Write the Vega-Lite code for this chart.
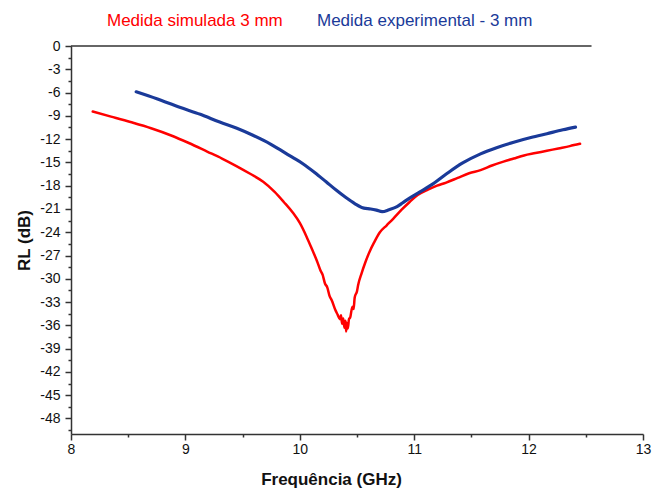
{
  "$schema": "https://vega.github.io/schema/vega-lite/v6.json",
  "autosize": {"type": "none"},
  "width": 572,
  "height": 388,
  "padding": {"left": 71, "top": 46, "right": 9, "bottom": 54},
  "background": "white",
  "config": {
    "view": {"stroke": null},
    "axis": {
      "grid": false,
      "domainColor": "#333333",
      "domainWidth": 1.5,
      "tickColor": "#333333",
      "tickWidth": 1.5,
      "labelFont": "Liberation Sans",
      "labelFontSize": 14,
      "labelColor": "#111111",
      "labelOverlap": false,
      "titleFont": "Liberation Sans",
      "titleFontSize": 17,
      "titleFontWeight": "bold",
      "titleColor": "#111111"
    }
  },
  "layer": [
    {
      "data": {"values": [{}]},
      "mark": {"type": "rule", "color": "#333333", "strokeWidth": 1.5},
      "encoding": {
        "x": {"datum": 8, "type": "quantitative"},
        "x2": {"datum": 12.55},
        "y": {"datum": 0, "type": "quantitative"}
      }
    },
    {
      "data": {
        "values": [
          {"serie": "Medida simulada 3 mm", "f": 8.19, "rl": -8.45},
          {"serie": "Medida simulada 3 mm", "f": 8.35, "rl": -9.1},
          {"serie": "Medida simulada 3 mm", "f": 8.52, "rl": -9.8},
          {"serie": "Medida simulada 3 mm", "f": 8.70, "rl": -10.6},
          {"serie": "Medida simulada 3 mm", "f": 8.87, "rl": -11.5},
          {"serie": "Medida simulada 3 mm", "f": 9.03, "rl": -12.5},
          {"serie": "Medida simulada 3 mm", "f": 9.19, "rl": -13.6},
          {"serie": "Medida simulada 3 mm", "f": 9.32, "rl": -14.5},
          {"serie": "Medida simulada 3 mm", "f": 9.45, "rl": -15.5},
          {"serie": "Medida simulada 3 mm", "f": 9.57, "rl": -16.5},
          {"serie": "Medida simulada 3 mm", "f": 9.68, "rl": -17.5},
          {"serie": "Medida simulada 3 mm", "f": 9.78, "rl": -18.8},
          {"serie": "Medida simulada 3 mm", "f": 9.86, "rl": -20.1},
          {"serie": "Medida simulada 3 mm", "f": 9.94, "rl": -21.5},
          {"serie": "Medida simulada 3 mm", "f": 10.0, "rl": -22.8},
          {"serie": "Medida simulada 3 mm", "f": 10.06, "rl": -24.6},
          {"serie": "Medida simulada 3 mm", "f": 10.11, "rl": -26.3},
          {"serie": "Medida simulada 3 mm", "f": 10.15, "rl": -27.7},
          {"serie": "Medida simulada 3 mm", "f": 10.18, "rl": -28.9},
          {"serie": "Medida simulada 3 mm", "f": 10.20, "rl": -29.5},
          {"serie": "Medida simulada 3 mm", "f": 10.22, "rl": -30.6},
          {"serie": "Medida simulada 3 mm", "f": 10.24, "rl": -31.1},
          {"serie": "Medida simulada 3 mm", "f": 10.26, "rl": -32.2},
          {"serie": "Medida simulada 3 mm", "f": 10.28, "rl": -32.8},
          {"serie": "Medida simulada 3 mm", "f": 10.31, "rl": -34.0},
          {"serie": "Medida simulada 3 mm", "f": 10.33, "rl": -34.6},
          {"serie": "Medida simulada 3 mm", "f": 10.35, "rl": -35.2},
          {"serie": "Medida simulada 3 mm", "f": 10.36, "rl": -34.7},
          {"serie": "Medida simulada 3 mm", "f": 10.37, "rl": -35.8},
          {"serie": "Medida simulada 3 mm", "f": 10.38, "rl": -35.1},
          {"serie": "Medida simulada 3 mm", "f": 10.39, "rl": -36.3},
          {"serie": "Medida simulada 3 mm", "f": 10.40, "rl": -35.4},
          {"serie": "Medida simulada 3 mm", "f": 10.405, "rl": -36.8},
          {"serie": "Medida simulada 3 mm", "f": 10.41, "rl": -35.7},
          {"serie": "Medida simulada 3 mm", "f": 10.42, "rl": -36.4},
          {"serie": "Medida simulada 3 mm", "f": 10.43, "rl": -35.2},
          {"serie": "Medida simulada 3 mm", "f": 10.44, "rl": -35.0},
          {"serie": "Medida simulada 3 mm", "f": 10.46, "rl": -33.6},
          {"serie": "Medida simulada 3 mm", "f": 10.47, "rl": -33.9},
          {"serie": "Medida simulada 3 mm", "f": 10.48, "rl": -32.4},
          {"serie": "Medida simulada 3 mm", "f": 10.50, "rl": -31.6},
          {"serie": "Medida simulada 3 mm", "f": 10.51, "rl": -30.8},
          {"serie": "Medida simulada 3 mm", "f": 10.54, "rl": -29.3},
          {"serie": "Medida simulada 3 mm", "f": 10.57, "rl": -28.0},
          {"serie": "Medida simulada 3 mm", "f": 10.61, "rl": -26.5},
          {"serie": "Medida simulada 3 mm", "f": 10.65, "rl": -25.3},
          {"serie": "Medida simulada 3 mm", "f": 10.70, "rl": -24.0},
          {"serie": "Medida simulada 3 mm", "f": 10.76, "rl": -23.1},
          {"serie": "Medida simulada 3 mm", "f": 10.82, "rl": -22.2},
          {"serie": "Medida simulada 3 mm", "f": 10.89, "rl": -21.1},
          {"serie": "Medida simulada 3 mm", "f": 10.96, "rl": -20.1},
          {"serie": "Medida simulada 3 mm", "f": 11.03, "rl": -19.2},
          {"serie": "Medida simulada 3 mm", "f": 11.12, "rl": -18.5},
          {"serie": "Medida simulada 3 mm", "f": 11.20, "rl": -18.0},
          {"serie": "Medida simulada 3 mm", "f": 11.28, "rl": -17.6},
          {"serie": "Medida simulada 3 mm", "f": 11.38, "rl": -17.0},
          {"serie": "Medida simulada 3 mm", "f": 11.48, "rl": -16.4},
          {"serie": "Medida simulada 3 mm", "f": 11.58, "rl": -16.0},
          {"serie": "Medida simulada 3 mm", "f": 11.68, "rl": -15.4},
          {"serie": "Medida simulada 3 mm", "f": 11.78, "rl": -14.9},
          {"serie": "Medida simulada 3 mm", "f": 11.87, "rl": -14.5},
          {"serie": "Medida simulada 3 mm", "f": 11.96, "rl": -14.1},
          {"serie": "Medida simulada 3 mm", "f": 12.06, "rl": -13.8},
          {"serie": "Medida simulada 3 mm", "f": 12.16, "rl": -13.5},
          {"serie": "Medida simulada 3 mm", "f": 12.26, "rl": -13.2},
          {"serie": "Medida simulada 3 mm", "f": 12.36, "rl": -12.9},
          {"serie": "Medida simulada 3 mm", "f": 12.45, "rl": -12.6},
          {"serie": "Medida experimental - 3 mm", "f": 8.57, "rl": -5.9},
          {"serie": "Medida experimental - 3 mm", "f": 8.75, "rl": -6.8},
          {"serie": "Medida experimental - 3 mm", "f": 8.95, "rl": -7.9},
          {"serie": "Medida experimental - 3 mm", "f": 9.13, "rl": -8.8},
          {"serie": "Medida experimental - 3 mm", "f": 9.30, "rl": -9.8},
          {"serie": "Medida experimental - 3 mm", "f": 9.45, "rl": -10.6},
          {"serie": "Medida experimental - 3 mm", "f": 9.59, "rl": -11.5},
          {"serie": "Medida experimental - 3 mm", "f": 9.74, "rl": -12.6},
          {"serie": "Medida experimental - 3 mm", "f": 9.83, "rl": -13.4},
          {"serie": "Medida experimental - 3 mm", "f": 9.93, "rl": -14.3},
          {"serie": "Medida experimental - 3 mm", "f": 10.03, "rl": -15.2},
          {"serie": "Medida experimental - 3 mm", "f": 10.13, "rl": -16.3},
          {"serie": "Medida experimental - 3 mm", "f": 10.23, "rl": -17.5},
          {"serie": "Medida experimental - 3 mm", "f": 10.32, "rl": -18.6},
          {"serie": "Medida experimental - 3 mm", "f": 10.40, "rl": -19.5},
          {"serie": "Medida experimental - 3 mm", "f": 10.48, "rl": -20.3},
          {"serie": "Medida experimental - 3 mm", "f": 10.56, "rl": -20.9},
          {"serie": "Medida experimental - 3 mm", "f": 10.62, "rl": -21.0},
          {"serie": "Medida experimental - 3 mm", "f": 10.67, "rl": -21.15},
          {"serie": "Medida experimental - 3 mm", "f": 10.72, "rl": -21.35},
          {"serie": "Medida experimental - 3 mm", "f": 10.78, "rl": -21.1},
          {"serie": "Medida experimental - 3 mm", "f": 10.85, "rl": -20.7},
          {"serie": "Medida experimental - 3 mm", "f": 10.90, "rl": -20.2},
          {"serie": "Medida experimental - 3 mm", "f": 10.96, "rl": -19.6},
          {"serie": "Medida experimental - 3 mm", "f": 11.05, "rl": -18.8},
          {"serie": "Medida experimental - 3 mm", "f": 11.15, "rl": -17.9},
          {"serie": "Medida experimental - 3 mm", "f": 11.28, "rl": -16.5},
          {"serie": "Medida experimental - 3 mm", "f": 11.42, "rl": -15.1},
          {"serie": "Medida experimental - 3 mm", "f": 11.58, "rl": -13.9},
          {"serie": "Medida experimental - 3 mm", "f": 11.72, "rl": -13.1},
          {"serie": "Medida experimental - 3 mm", "f": 11.87, "rl": -12.4},
          {"serie": "Medida experimental - 3 mm", "f": 12.02, "rl": -11.8},
          {"serie": "Medida experimental - 3 mm", "f": 12.16, "rl": -11.3},
          {"serie": "Medida experimental - 3 mm", "f": 12.30, "rl": -10.8},
          {"serie": "Medida experimental - 3 mm", "f": 12.41, "rl": -10.45}
        ]
      },
      "mark": {"type": "line", "interpolate": "monotone", "strokeCap": "round"},
      "encoding": {
        "x": {
          "field": "f",
          "type": "quantitative",
          "scale": {"domain": [8, 13], "nice": false, "zero": false},
          "axis": {
            "title": "Frequência (GHz)",
            "values": [8, 8.5, 9, 9.5, 10, 10.5, 11, 11.5, 12, 12.5, 13],
            "tickCount": 50,
            "labelExpr": "datum.value % 1 === 0 ? '' + datum.value : ''",
            "tickSize": {"condition": {"test": "datum.value % 1 === 0", "value": 6}, "value": 3},
            "labelPadding": 2,
            "labelFlush": false,
            "titleX": 260,
            "titleY": 50,
            "titleBaseline": "alphabetic"
          }
        },
        "y": {
          "field": "rl",
          "type": "quantitative",
          "scale": {"domain": [-50, 0], "nice": false, "zero": false},
          "axis": {
            "title": "RL (dB)",
            "values": [0, -1.5, -3, -4.5, -6, -7.5, -9, -10.5, -12, -13.5, -15, -16.5, -18, -19.5, -21, -22.5, -24, -25.5, -27, -28.5, -30, -31.5, -33, -34.5, -36, -37.5, -39, -40.5, -42, -43.5, -45, -46.5, -48, -49.5],
            "tickCount": 100,
            "labelExpr": "datum.value % 3 === 0 ? '' + datum.value : ''",
            "tickSize": {"condition": {"test": "datum.value % 3 === 0", "value": 6}, "value": 3},
            "labelPadding": 5,
            "labelFlush": false,
            "titlePadding": 6
          }
        },
        "color": {
          "field": "serie",
          "type": "nominal",
          "scale": {"domain": ["Medida simulada 3 mm", "Medida experimental - 3 mm"], "range": ["#ff0000", "#1a3a99"]},
          "legend": {
            "title": null,
            "orient": "none",
            "direction": "horizontal",
            "columns": 2,
            "legendX": 19,
            "legendY": -34,
            "symbolSize": 0,
            "symbolStrokeWidth": 0,
            "symbolOpacity": 0,
            "labelOffset": 0,
            "columnPadding": 17,
            "labelFont": "Liberation Sans",
            "labelFontSize": 17,
            "labelLimit": 400,
            "encode": {"labels": {"update": {"fill": {"scale": "color", "field": "value"}}}}
          }
        },
        "strokeWidth": {
          "field": "serie",
          "type": "nominal",
          "scale": {"domain": ["Medida simulada 3 mm", "Medida experimental - 3 mm"], "range": [2.5, 3.2]},
          "legend": null
        }
      }
    }
  ]
}
